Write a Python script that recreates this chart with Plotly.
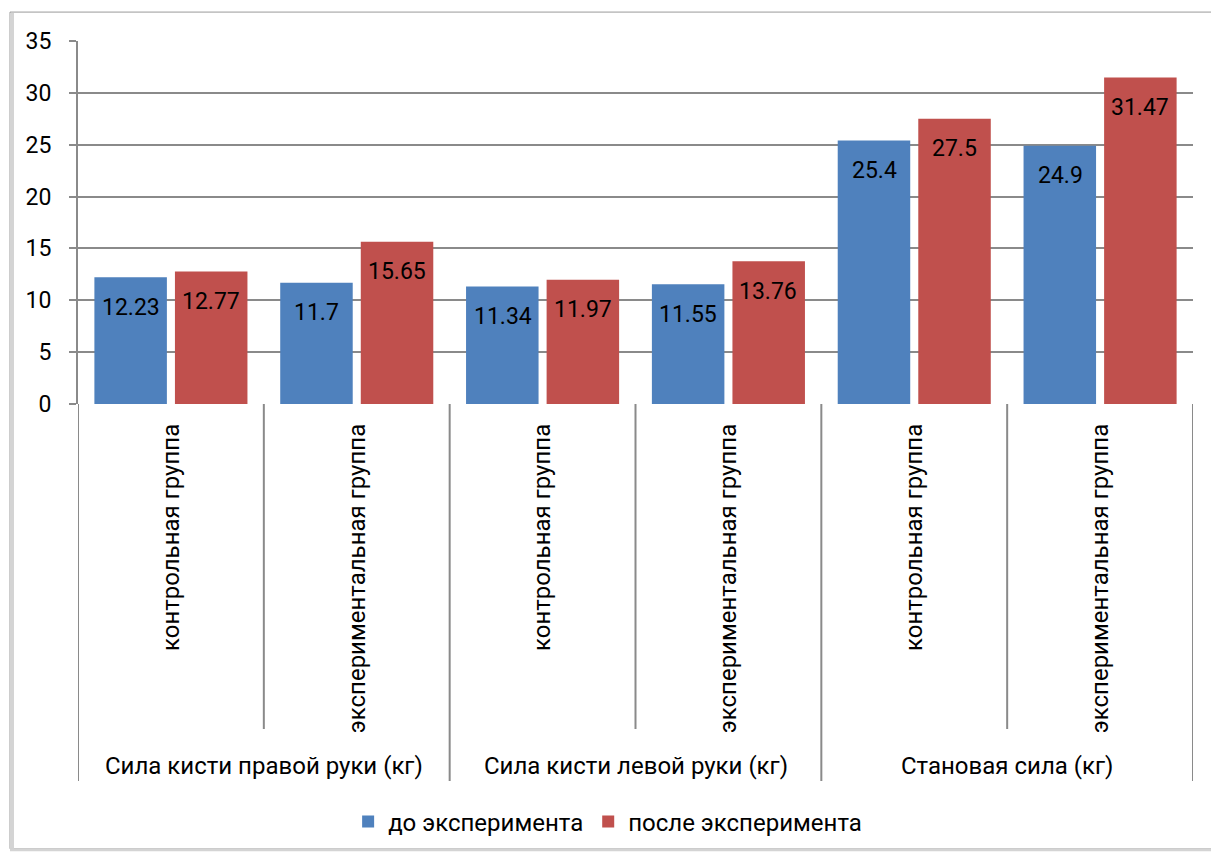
import plotly.graph_objects as go

groups = ["Сила кисти правой руки (кг)", "Сила кисти левой руки (кг)", "Становая сила (кг)"]
subgroups = ["контрольная группа", "экспериментальная группа"]
series_names = ["до эксперимента", "после эксперимента"]
before = [12.23, 11.7, 11.34, 11.55, 25.4, 24.9]
after = [12.77, 15.65, 11.97, 13.76, 27.5, 31.47]
y_ticks = [0, 5, 10, 15, 20, 25, 30, 35]

colors = ["#4F81BD", "#C0504D"]
FONT = "Roboto"
FS = 24
NS = 23
GRID = "#8a8a8a"

sub_labels = [s for g in groups for s in subgroups]
xs = list(range(len(sub_labels)))

W, H = 1211, 854
L, R, T, B = 78, 18, 41, 449
ph = H - T - B
pw = W - L - R

def py(p):
    return (H - B - p) / ph

def px(p):
    return (p - L) / pw

fig = go.Figure()
for name, vals, c in zip(series_names, [before, after], colors):
    fig.add_trace(go.Bar(x=xs, y=vals, name=name, marker=dict(color=c, line=dict(width=0))))

shapes = []
# chart area border
shapes.append(dict(type="rect", xref="paper", yref="paper", x0=px(10), x1=px(1240), y0=py(851), y1=py(12),
                   line=dict(color="#9a9a9a", width=1), layer="below"))
shapes.append(dict(type="line", xref="paper", yref="paper", x0=px(12), x1=px(12), y0=py(851), y1=py(13),
                   line=dict(color="#d4d4d4", width=4)))
shapes.append(dict(type="line", xref="paper", yref="paper", x0=px(10), x1=px(1240), y0=py(852), y1=py(852),
                   line=dict(color="#d4d4d4", width=3)))
# category axis separators
n = len(sub_labels)
for i in range(n + 1):
    long = (i % len(subgroups) == 0)
    shapes.append(dict(type="line", xref="x", yref="paper", x0=i - 0.5, x1=i - 0.5, y0=0,
                       y1=py(783) if long else py(731), line=dict(color=GRID, width=2)))

annotations = []
for gi, g in enumerate(groups):
    center = gi * len(subgroups) + (len(subgroups) - 1) / 2
    annotations.append(dict(x=center, xref="x", y=py(768), yref="paper", text=g, showarrow=False,
                            font=dict(family=FONT, size=FS, color="black"), yanchor="middle"))
for si, vals in enumerate([before, after]):
    shift = -40 if si == 0 else 40
    for x, v in zip(xs, vals):
        annotations.append(dict(x=x, y=v, xref="x", yref="y", text=f"{v:g}", showarrow=False,
                                xshift=shift, yshift=-30, yanchor="middle",
                                font=dict(family=FONT, size=NS, color="black")))

fig.update_layout(
    width=W, height=H,
    margin=dict(l=L, r=R, t=T, b=B, pad=0),
    paper_bgcolor="white", plot_bgcolor="white",
    font=dict(family=FONT, size=FS, color="black"),
    barmode="group", bargap=0.133, bargroupgap=0.1,
    showlegend=True,
    legend=dict(orientation="h", x=0.475, xanchor="center", y=py(822), yanchor="middle",
                font=dict(family=FONT, size=FS, color="black"), itemwidth=30, traceorder="normal"),
    shapes=shapes, annotations=annotations,
)
fig.update_xaxes(range=[-0.5, n - 0.5], tickvals=xs, ticktext=sub_labels, tickangle=-90,
                 showgrid=False, zeroline=False, showline=False, ticks="", ticklabelstandoff=14,
                 tickfont=dict(family=FONT, size=FS, color="black"), fixedrange=True)
fig.update_yaxes(range=[0, 35], tickvals=y_ticks, showgrid=True, gridcolor=GRID, gridwidth=2,
                 zeroline=False, showline=True, linecolor=GRID, linewidth=2, ticks="outside", ticklen=7,
                 tickcolor=GRID, tickwidth=2, ticklabelstandoff=13,
                 tickfont=dict(family=FONT, size=NS, color="black"))

fig.write_html("out.html")
